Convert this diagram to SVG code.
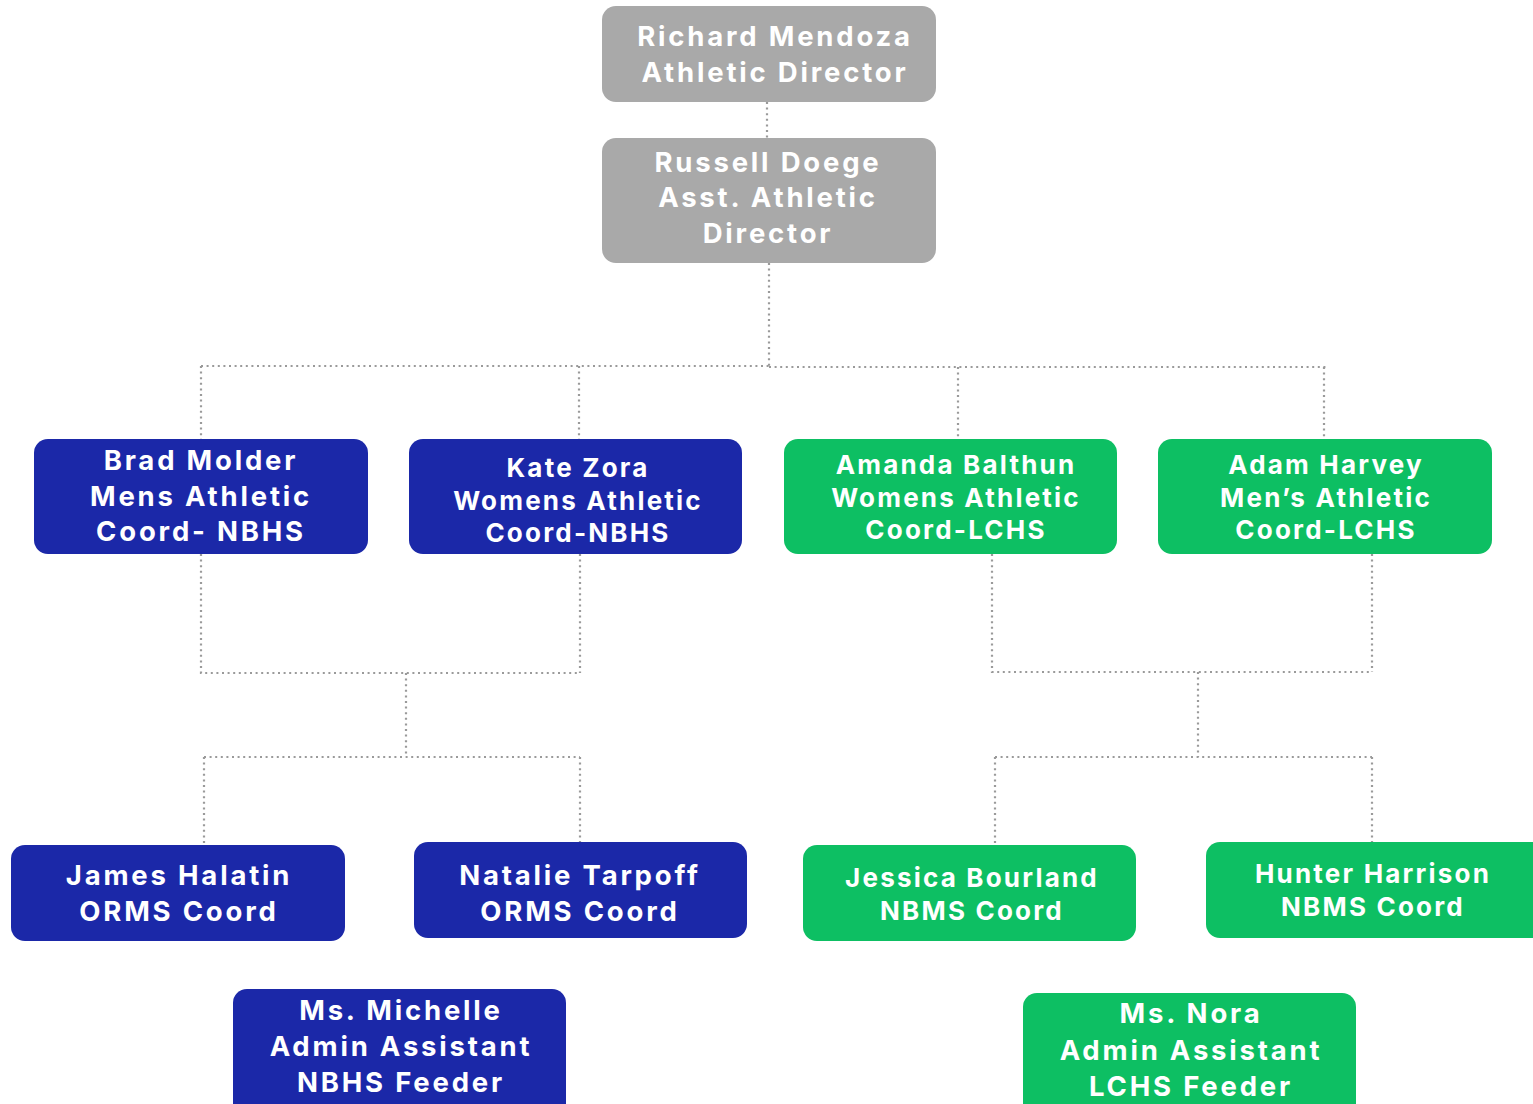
<svg xmlns="http://www.w3.org/2000/svg" width="1533" height="1104" viewBox="0 0 1533 1104">
<style>
.g{fill:#a9a9a9}
.b{fill:#1b28a8}
.n{fill:#0dbf63}
text{font-family:Inter,"Liberation Sans",sans-serif;font-weight:700;fill:#fff;text-anchor:middle;dominant-baseline:central}
.t1{font-size:27.5px;letter-spacing:2.8px}
.t2{font-size:26px;letter-spacing:2.2px}
.c{fill:none;stroke:#9a9a9a;stroke-width:2.2;stroke-dasharray:2 3.6}
</style>
<rect width="1533" height="1104" fill="#fff"/>
<g id="connectors">
<path class="c" d="M767 102V138"/>
<path class="c" d="M769 263V366M201 366H769M201 366V440M579 366V440M769 367H1327M958 367V440M1324 367V440"/>
<path class="c" d="M201 554V673H580M580 554V673M406 673V757M204 757H580M204 757V846M580 757V843"/>
<path class="c" d="M992 554V672H1372M1372 554V672M1198 672V757M995 757H1372M995 757V846M1372 757V843"/>
</g>
<g id="richard"><rect class="g" x="602" y="6" width="334" height="96" rx="14"/><text class="t1" x="775" y="36">Richard Mendoza</text><text class="t1" x="775" y="72">Athletic Director</text></g>
<g id="russell"><rect class="g" x="602" y="138" width="334" height="125" rx="14"/><text class="t1" x="768" y="162">Russell Doege</text><text class="t1" x="768" y="197">Asst. Athletic</text><text class="t1" x="768" y="233">Director</text></g>
<g id="brad"><rect class="b" x="34" y="439" width="334" height="115" rx="14"/><text class="t1" x="201" y="460">Brad Molder</text><text class="t1" x="201" y="496">Mens Athletic</text><text class="t1" x="201" y="531">Coord- NBHS</text></g>
<g id="kate"><rect class="b" x="409" y="439" width="333" height="115" rx="14"/><text class="t2" x="578" y="467">Kate Zora</text><text class="t2" x="578" y="500">Womens Athletic</text><text class="t2" x="578" y="532">Coord-NBHS</text></g>
<g id="amanda"><rect class="n" x="784" y="439" width="333" height="115" rx="14"/><text class="t2" x="956" y="464">Amanda Balthun</text><text class="t2" x="956" y="497">Womens Athletic</text><text class="t2" x="956" y="529">Coord-LCHS</text></g>
<g id="adam"><rect class="n" x="1158" y="439" width="334" height="115" rx="14"/><text class="t2" x="1326" y="464">Adam Harvey</text><text class="t2" x="1326" y="497">Men’s Athletic</text><text class="t2" x="1326" y="529">Coord-LCHS</text></g>
<g id="james"><rect class="b" x="11" y="845" width="334" height="96" rx="14"/><text class="t1" x="179" y="875">James Halatin</text><text class="t1" x="179" y="911">ORMS Coord</text></g>
<g id="natalie"><rect class="b" x="414" y="842" width="333" height="96" rx="14"/><text class="t1" x="580" y="875">Natalie Tarpoff</text><text class="t1" x="580" y="911">ORMS Coord</text></g>
<g id="jessica"><rect class="n" x="803" y="845" width="333" height="96" rx="14"/><text class="t2" x="972" y="877">Jessica Bourland</text><text class="t2" x="972" y="910">NBMS Coord</text></g>
<g id="hunter"><rect class="n" x="1206" y="842" width="340" height="96" rx="14"/><text class="t2" x="1373" y="873">Hunter Harrison</text><text class="t2" x="1373" y="906">NBMS Coord</text></g>
<g id="michelle"><rect class="b" x="233" y="989" width="333" height="130" rx="14"/><text class="t1" x="401" y="1010">Ms. Michelle</text><text class="t1" x="401" y="1046">Admin Assistant</text><text class="t1" x="401" y="1082">NBHS Feeder</text></g>
<g id="nora"><rect class="n" x="1023" y="993" width="333" height="130" rx="14"/><text class="t1" x="1191" y="1013">Ms. Nora</text><text class="t1" x="1191" y="1050">Admin Assistant</text><text class="t1" x="1191" y="1086">LCHS Feeder</text></g>
</svg>
